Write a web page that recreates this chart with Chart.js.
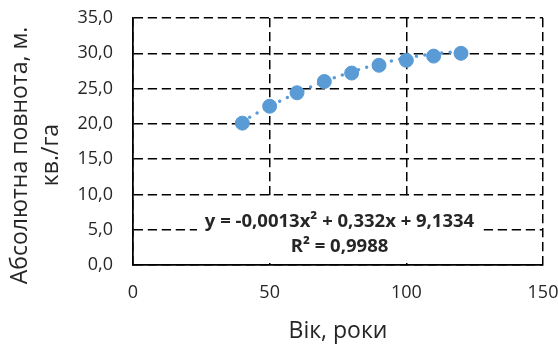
<!DOCTYPE html>
<html><head><meta charset="utf-8">
<script src="https://cdn.jsdelivr.net/npm/chart.js@4"></script>
<style>html,body{margin:0;padding:0;background:#fff;} #wrap{width:558px;height:345px;}</style>
</head><body><div id="wrap"><canvas id="c" width="558" height="345"></canvas></div>
<script>
// ---- data ----
const ages = [40, 50, 60, 70, 80, 90, 100, 110, 120];
const fullness = [20.1, 22.5, 24.4, 26.0, 27.2, 28.3, 29.0, 29.6, 30.0];
const trendCoefficients = [-0.0013, 0.332, 9.1334]; // shown on the chart: a·x² + b·x + c
const xTicks = [0, 50, 100, 150];
const yTicks = [0, 5, 10, 15, 20, 25, 30, 35];
const equationLines = ['y = -0,0013x² + 0,332x + 9,1334', 'R² = 0,9988'];
const xTitle = 'Вік, роки';
const yTitleLines = ['Абсолютна повнота, м.', 'кв./га'];

const BLUE = '#5B9BD5';
const TEXT = '#262626';
const FONT = '"Open Sans", "Liberation Sans", sans-serif';

const trendPoints = [];
for (let x = ages[0]; x <= ages[ages.length - 1]; x += 1) {
  const [a, b, c] = trendCoefficients;
  trendPoints.push({x: x, y: a * x * x + b * x + c});
}

const labelsPlugin = {
  id: 'labels',
  afterDraw(chart) {
    const ctx = chart.ctx;
    const ca = chart.chartArea;
    const cx = (ca.left + ca.right) / 2;
    ctx.save();
    // equation box
    ctx.fillStyle = '#fff';
    ctx.fillRect(197, 199, 285, ca.bottom - 2 - 199);
    ctx.fillStyle = TEXT;
    ctx.font = 'bold 18.5px ' + FONT;
    ctx.textAlign = 'center';
    ctx.textBaseline = 'alphabetic';
    ctx.fillText(equationLines[0], cx + 1.5, 226.5);
    ctx.fillText(equationLines[1], cx + 1.5, 251.5);
    // x title
    ctx.font = '23px ' + FONT;
    ctx.fillText(xTitle, cx, 338);
    // y title
    const ys = [[27, 155.5], [58, 155]];
    yTitleLines.forEach((t, i) => {
      ctx.save();
      ctx.translate(ys[i][0], ys[i][1]);
      ctx.rotate(-Math.PI / 2);
      ctx.fillText(t, 0, 0);
      ctx.restore();
    });
    ctx.restore();
  }
};

function build() {
  new Chart(document.getElementById('c'), {
    type: 'scatter',
    data: {
      datasets: [
        {
          label: 'data',
          data: ages.map((x, i) => ({x: x, y: fullness[i]})),
          backgroundColor: BLUE,
          borderColor: BLUE,
          pointRadius: 7,
          pointHoverRadius: 7,
          pointBorderWidth: 1,
          showLine: false,
          order: 1
        },
        {
          label: 'trend',
          data: trendPoints,
          showLine: true,
          borderColor: BLUE,
          borderWidth: 3.5,
          borderDash: [0, 8.5],
          borderCapStyle: 'round',
          pointRadius: 0,
          pointHoverRadius: 0,
          fill: false,
          tension: 0,
          order: 2
        }
      ]
    },
    options: {
      responsive: false,
      animation: false,
      devicePixelRatio: 1,
      events: [],
      layout: {padding: {left: 0, top: 18, right: 15, bottom: 0}},
      plugins: {legend: {display: false}, tooltip: {enabled: false}},
      scales: {
        x: {
          type: 'linear', min: 0, max: 150,
          afterBuildTicks: s => { s.ticks = xTicks.map(v => ({value: v})); },
          grid: {color: '#000', lineWidth: 1.5, drawTicks: false},
          border: {display: true, color: '#000', width: 1.75, dash: [9.3, 4.7]},
          ticks: {padding: 17, color: TEXT, font: {family: FONT, size: 18}, maxRotation: 0},
          afterFit: s => { s.height = 80; s.paddingLeft = 0; s.paddingRight = 0; }
        },
        y: {
          type: 'linear', min: 0, max: 35,
          afterBuildTicks: s => { s.ticks = yTicks.map(v => ({value: v})); },
          grid: {color: '#000', lineWidth: 1.5, drawTicks: false},
          border: {display: true, color: '#000', width: 1.75, dash: [9.3, 4.7]},
          ticks: {padding: 20, color: TEXT, font: {family: FONT, size: 18},
                  callback: v => Number(v).toFixed(1).replace('.', ',')},
          afterFit: s => { s.width = 133; s.paddingTop = 0; s.paddingBottom = 0; }
        }
      }
    },
    plugins: [labelsPlugin]
  });
}

if (document.fonts && document.fonts.load) {
  Promise.all([
    document.fonts.load('18px "Open Sans"'),
    document.fonts.load('bold 18px "Open Sans"')
  ]).then(build, build);
} else { build(); }
</script>
</body></html>
